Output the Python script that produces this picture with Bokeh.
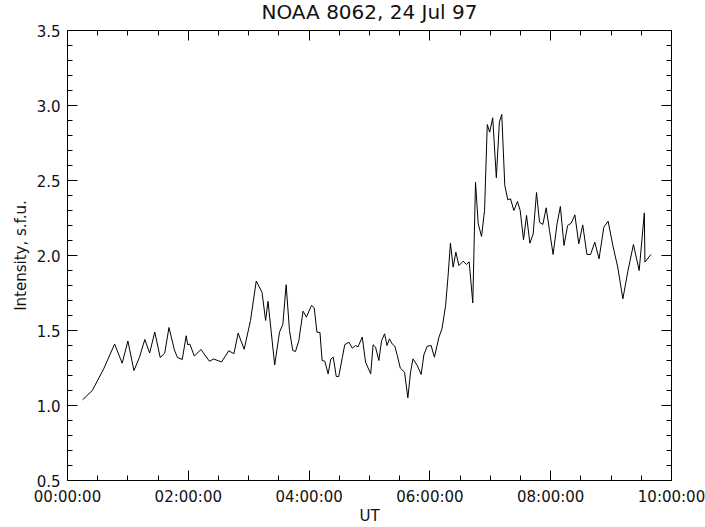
from bokeh.plotting import figure
from bokeh.models import FixedTicker, LinearAxis, Range1d, PrintfTickFormatter
from bokeh.embed import file_html
from bokeh.resources import INLINE

# ---------------- data ----------------
title_text = "NOAA 8062, 24 Jul 97"
x_label = "UT"
y_label = "Intensity, s.f.u."

# time in hours (UT), intensity in s.f.u.
time_h = [
    0.25, 0.41, 0.60, 0.78, 0.905, 1.00, 1.10, 1.19, 1.28, 1.36,
    1.445, 1.535, 1.61, 1.68, 1.77, 1.82, 1.90, 1.965, 1.99, 2.025,
    2.10, 2.21, 2.35, 2.42, 2.55, 2.67, 2.755, 2.825, 2.925, 3.03,
    3.125, 3.22, 3.28, 3.32, 3.43, 3.51, 3.565, 3.62, 3.675, 3.73,
    3.775, 3.83, 3.90, 3.955, 4.04, 4.085, 4.13, 4.18, 4.215, 4.26,
    4.315, 4.36, 4.40, 4.45, 4.49, 4.55, 4.59, 4.66, 4.715, 4.77,
    4.81, 4.88, 4.935, 5.02, 5.06, 5.10, 5.155, 5.20, 5.25, 5.29,
    5.33, 5.375, 5.42, 5.46, 5.51, 5.58, 5.635, 5.68, 5.72, 5.79,
    5.855, 5.90, 5.955, 6.02, 6.075, 6.15, 6.20, 6.26, 6.30, 6.34,
    6.385, 6.43, 6.48, 6.55, 6.605, 6.65, 6.71, 6.755, 6.80, 6.855,
    6.905, 6.95, 6.99, 7.04, 7.10, 7.15, 7.19, 7.24, 7.29, 7.335,
    7.39, 7.45, 7.495, 7.55, 7.60, 7.655, 7.71, 7.765, 7.815, 7.87,
    7.925, 7.98, 8.04, 8.105, 8.16, 8.22, 8.28, 8.34, 8.40, 8.465,
    8.53, 8.60, 8.66, 8.73, 8.80, 8.88, 8.95, 9.035, 9.11, 9.195,
    9.28, 9.37, 9.465, 9.55, 9.56, 9.66,
]
intensity = [
    1.038, 1.100, 1.245, 1.410, 1.282, 1.430, 1.233, 1.320, 1.440, 1.350,
    1.490, 1.320, 1.350, 1.520, 1.370, 1.320, 1.307, 1.465, 1.405, 1.410,
    1.330, 1.373, 1.295, 1.310, 1.290, 1.365, 1.345, 1.482, 1.375, 1.567,
    1.830, 1.755, 1.567, 1.695, 1.270, 1.489, 1.540, 1.805, 1.500, 1.367,
    1.360, 1.433, 1.629, 1.589, 1.667, 1.651, 1.489, 1.487, 1.300, 1.295,
    1.211, 1.310, 1.322, 1.193, 1.193, 1.320, 1.405, 1.422, 1.382, 1.400,
    1.391, 1.456, 1.289, 1.211, 1.405, 1.389, 1.300, 1.433, 1.478, 1.400,
    1.444, 1.411, 1.395, 1.333, 1.249, 1.222, 1.051, 1.222, 1.311, 1.267,
    1.207, 1.338, 1.395, 1.400, 1.322, 1.456, 1.511, 1.667, 1.860, 2.082,
    1.922, 2.022, 1.933, 1.962, 1.940, 1.958, 1.684, 2.489, 2.211, 2.127,
    2.300, 2.873, 2.822, 2.918, 2.518, 2.889, 2.940, 2.467, 2.371, 2.378,
    2.300, 2.360, 2.300, 2.105, 2.267, 2.082, 2.144, 2.420, 2.222, 2.207,
    2.318, 2.167, 2.007, 2.211, 2.327, 2.067, 2.200, 2.216, 2.271, 2.078,
    2.204, 2.007, 2.007, 2.089, 1.978, 2.189, 2.229, 2.056, 1.922, 1.711,
    1.900, 2.073, 1.900, 2.284, 1.956, 2.007,
]
assert len(time_h) == len(intensity)

x_ticks = [0, 2, 4, 6, 8, 10]
x_tick_labels = ["00:00:00", "02:00:00", "04:00:00", "06:00:00", "08:00:00", "10:00:00"]
x_minor_ticks = [0.5, 1.0, 1.5, 2.5, 3.0, 3.5, 4.5, 5.0, 5.5, 6.5, 7.0, 7.5, 8.5, 9.0, 9.5]
y_ticks = [0.5, 1.0, 1.5, 2.0, 2.5, 3.0, 3.5]
y_minor_ticks = [0.6, 0.7, 0.8, 0.9, 1.1, 1.2, 1.3, 1.4, 1.6, 1.7, 1.8, 1.9,
                 2.1, 2.2, 2.3, 2.4, 2.6, 2.7, 2.8, 2.9, 3.1, 3.2, 3.3, 3.4]
x_min, x_max = 0, 10
y_min, y_max = 0.5, 3.5

# ---------------- figure ----------------
FONT = "DejaVu Sans"
TXT = "#111111"
SHIFT = 7  # canvas is pulled up by this many pixels so the title sits high

p = figure(width=705, height=527 + SHIFT,
           x_range=Range1d(x_min, x_max), y_range=Range1d(y_min, y_max),
           output_backend="svg", toolbar_location=None,
           x_axis_location=None, y_axis_location=None,
           min_border_left=67, min_border_right=34,
           min_border_top=30 + SHIFT, min_border_bottom=47)
p.styles = {"margin-top": f"-{SHIFT}px"}
p.grid.visible = False
p.outline_line_color = None
p.background_fill_color = "white"
p.border_fill_color = "white"

xt = FixedTicker(ticks=x_ticks, minor_ticks=x_minor_ticks)
yt = FixedTicker(ticks=y_ticks, minor_ticks=y_minor_ticks)


def style(ax, show_labels):
    ax.axis_line_color = "black"
    ax.axis_line_width = 1
    ax.major_tick_in = 10
    ax.major_tick_out = 0
    ax.minor_tick_in = 5
    ax.minor_tick_out = 0
    ax.major_tick_line_color = "black"
    ax.minor_tick_line_color = "black"
    ax.major_label_text_font = FONT
    ax.axis_label_text_font = FONT
    ax.axis_label_text_font_style = "normal"
    ax.axis_label_text_color = TXT
    if show_labels:
        ax.major_label_text_font_size = "15px"
        ax.major_label_text_color = TXT
    else:
        ax.major_label_text_font_size = "1px"
        ax.major_label_text_color = None
        ax.major_label_standoff = 0


bottom = LinearAxis(ticker=xt, axis_label=x_label,
                    major_label_overrides={t: s for t, s in zip(x_ticks, x_tick_labels)})
style(bottom, True)
bottom.major_label_standoff = 7
bottom.axis_label_text_font_size = "15px"
bottom.axis_label_standoff = -2
p.add_layout(bottom, "below")

# title drawn as the label of the top (mirror) axis
top = LinearAxis(ticker=xt, axis_label=title_text)
style(top, False)
top.axis_label_text_font_size = "20px"
top.axis_label_standoff = 7
p.add_layout(top, "above")

left = LinearAxis(ticker=yt, axis_label=y_label,
                  formatter=PrintfTickFormatter(format="%.1f"))
style(left, True)
left.major_label_standoff = 7
left.axis_label_text_font_size = "15px"
left.axis_label_standoff = 4
p.add_layout(left, "left")

right = LinearAxis(ticker=yt)
style(right, False)
p.add_layout(right, "right")

p.line(time_h, intensity, line_color="black", line_width=1)

open("out.html", "w").write(file_html(p, INLINE))
